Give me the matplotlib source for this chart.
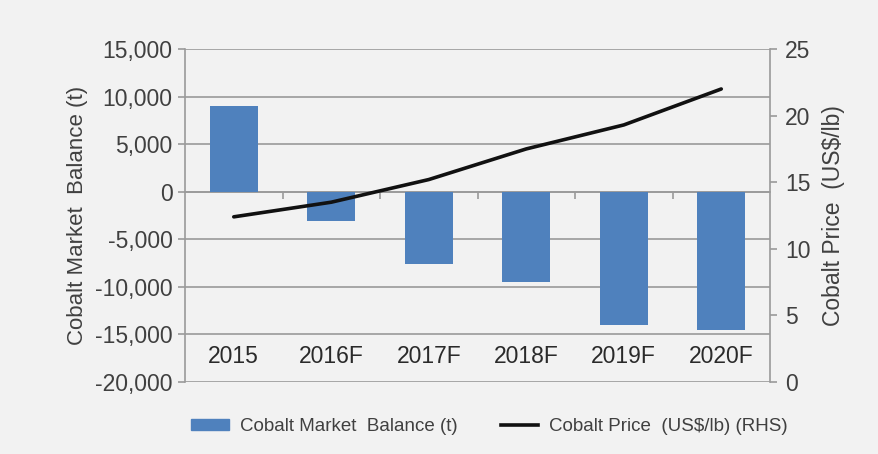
import numpy as np
import matplotlib.pyplot as plt
from matplotlib.lines import Line2D
from matplotlib.patches import Patch

plt.rcParams['font.family'] = ['Liberation Sans', 'DejaVu Sans']

years = ['2015', '2016F', '2017F', '2018F', '2019F', '2020F']
balance = [9000, -3100, -7600, -9500, -14000, -14500]
price = [12.4, 13.5, 15.2, 17.5, 19.3, 22.0]

bg = '#f2f2f2'
txt = '#404040'
grid = '#9a9a9a'

fig = plt.figure(figsize=(8.79, 4.54), dpi=100, facecolor=bg)
ax = fig.add_axes([0.2105, 0.1586, 0.6655, 0.7334])
ax.set_facecolor(bg)

x = np.arange(len(years))
ax.bar(x, balance, width=0.49, color='#4f81bd', zorder=3)

ax.set_xlim(-0.5, len(years) - 0.5)
ax.set_ylim(-20000, 15000)
ax.set_yticks(np.arange(-20000, 15001, 5000))
ax.set_yticklabels([f'{v:,}' for v in range(-20000, 15001, 5000)])
ax.yaxis.grid(True, color=grid, lw=1.2, zorder=0)
ax.set_axisbelow(True)

# zero line with small ticks between categories
ax.spines['bottom'].set_position(('data', 0))
ax.spines['bottom'].set_color(grid)
ax.spines['bottom'].set_linewidth(1.2)
ax.set_xticks(np.arange(0.5, len(years) - 0.5, 1))
ax.set_xticklabels([])
ax.tick_params(axis='x', length=5, color=grid, width=1.2, direction='out')
ax.spines['top'].set_visible(False)
ax.spines['right'].set_visible(False)
ax.spines['left'].set_color(grid)
ax.spines['left'].set_linewidth(1.2)
ax.tick_params(axis='y', length=5, color=grid, width=1.2, labelsize=16.5,
               labelcolor=txt, pad=4)

for i, lab in enumerate(years):
    ax.text(i, -17300, lab, ha='center', va='center', fontsize=16.5, color='#2a2a2a')

ax.set_ylabel('Cobalt Market  Balance (t)', fontsize=16, color=txt, labelpad=5)

ax2 = ax.twinx()
ax2.plot(x, price, color='#111111', lw=2.6, solid_capstyle='round', zorder=4)
ax2.set_ylim(0, 25)
ax2.set_yticks(range(0, 26, 5))
for s in ['top', 'left', 'bottom']:
    ax2.spines[s].set_visible(False)
ax2.spines['right'].set_color(grid)
ax2.spines['right'].set_linewidth(1.2)
ax2.tick_params(axis='y', length=5, color=grid, width=1.2, labelsize=16.5,
                labelcolor=txt, pad=6)
ax2.set_ylabel('Cobalt Price  (US$/lb)', fontsize=16.5, color=txt, labelpad=8)

handles = [Patch(color='#4f81bd'), Line2D([0], [0], color='#111111', lw=2.6)]
labels = ['Cobalt Market  Balance (t)', 'Cobalt Price  (US$/lb) (RHS)']
fig.legend(handles, labels, loc='center', bbox_to_anchor=(0.557, 0.06), ncol=2,
           frameon=False, fontsize=13.5, labelcolor=txt, handlelength=2.0,
           handleheight=0.5, columnspacing=2.3, handletextpad=0.6)

fig.savefig('out.png', dpi=100, facecolor=bg)
